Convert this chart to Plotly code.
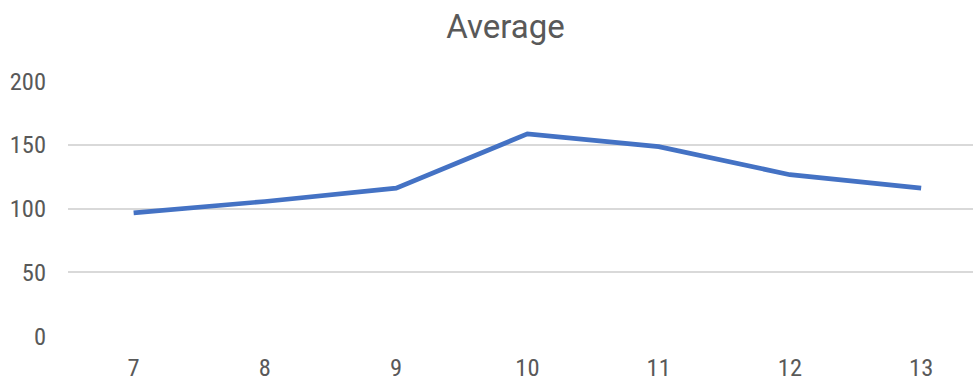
import plotly.graph_objects as go

# Average value per category
categories = [7, 8, 9, 10, 11, 12, 13]
average = [96.5, 105.5, 116, 158.5, 148.5, 126.5, 116]

y_ticks = [0, 50, 100, 150, 200]

tick_font = "Roboto Condensed, Roboto, sans-serif"
title_font = "Roboto, sans-serif"
text_color = "#595959"
grid_color = "#d9d9d9"

fig = go.Figure(
    go.Scatter(
        x=categories,
        y=average,
        mode="lines",
        line=dict(color="#4472c4", width=4.7),
        hoverinfo="x+y",
    )
)

fig.update_layout(
    width=973,
    height=382,
    margin=dict(l=68, r=0, t=81, b=46),
    paper_bgcolor="white",
    plot_bgcolor="white",
    showlegend=False,
    title=dict(
        text="Average",
        x=0.5195,
        xanchor="center",
        y=0.93,
        yanchor="middle",
        font=dict(family=title_font, size=33, color=text_color),
    ),
    font=dict(family=tick_font, color=text_color),
)

fig.update_xaxes(
    range=[6.5, 13.395],
    tickvals=categories,
    ticktext=[str(c) for c in categories],
    showgrid=False,
    zeroline=False,
    showline=False,
    ticks="",
    tickfont=dict(family=tick_font, size=24.5, color=text_color),
    ticklabelstandoff=14,
)

fig.update_yaxes(
    range=[0, 200],
    tickvals=y_ticks,
    showgrid=True,
    gridcolor=grid_color,
    gridwidth=1.5,
    zeroline=False,
    showline=False,
    ticks="",
    tickfont=dict(family=tick_font, size=24.5, color=text_color),
    ticklabelstandoff=21,
)

fig.write_html("out.html")
